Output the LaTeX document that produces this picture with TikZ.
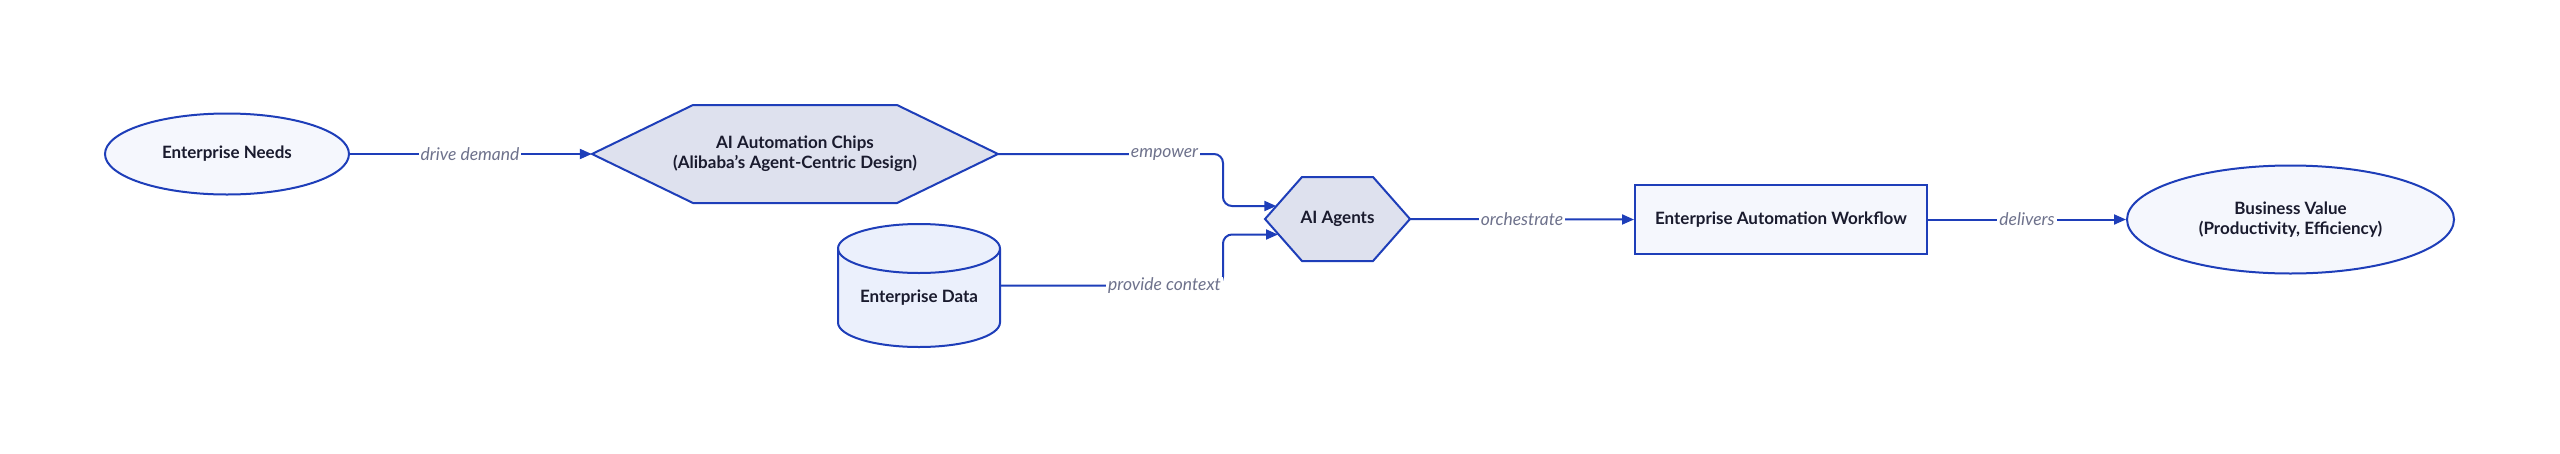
\documentclass[tikz,border=0pt]{standalone}
\usepackage{fontspec}
\setmainfont{Lato}
\usetikzlibrary{arrows.meta,shapes.geometric}
\definecolor{edgeblue}{RGB}{30,62,185}
\definecolor{lightfill}{RGB}{245,247,253}
\definecolor{hexfill}{RGB}{222,225,238}
\definecolor{cylfill}{RGB}{235,240,252}
\definecolor{txtcol}{RGB}{26,27,46}
\definecolor{labcol}{RGB}{110,114,140}
\tikzset{
  txt/.style={font=\fontsize{17}{20}\selectfont\bfseries, text=txtcol, align=center},
  ellbox/.style={txt, ellipse, draw=edgeblue, line width=2pt, fill=lightfill, inner sep=0pt},
  rectbox/.style={txt, rectangle, draw=edgeblue, line width=2pt, fill=lightfill},
  hexlook/.style={draw=edgeblue, line width=2pt, fill=hexfill, line join=miter},
  cyllook/.style={draw=edgeblue, line width=2pt, fill=cylfill},
  edge/.style={draw=edgeblue, line width=2pt, -{Triangle[length=12pt,width=10pt]}, rounded corners=9pt},
  lab/.style={font=\fontsize{17.5}{20}\selectfont\itshape, text=labcol, fill=white, inner xsep=2pt, inner ysep=1pt}
}
\begin{document}
\begin{tikzpicture}[x=1pt,y=-1pt]
\useasboundingbox (0,0) rectangle (2560,453);
\fill[white] (0,0) rectangle (2560,453);

% Enterprise Needs
\node[ellbox, minimum width=244pt, minimum height=81pt] (needs) at (227,154) {Enterprise Needs};

% AI Automation Chips hexagon
\coordinate (chipsc) at (795,154);
\draw[hexlook] ([shift={(-203,0)}]chipsc) -- ([shift={(-102,-49)}]chipsc) -- ([shift={(102,-49)}]chipsc)
  -- ([shift={(203,0)}]chipsc) -- ([shift={(102,49)}]chipsc) -- ([shift={(-102,49)}]chipsc) -- cycle;
\node[txt, minimum width=406pt, minimum height=98pt, inner sep=0pt] (chips) at (chipsc) {AI Automation Chips\\(Alibaba’s Agent-Centric Design)};

% Enterprise Data cylinder
\coordinate (dc) at (919,285.5);
\draw[cyllook] ([shift={(-81,-37)}]dc) -- ([shift={(-81,37)}]dc)
  arc[start angle=180, end angle=360, x radius=81pt, y radius=24.5pt]
  -- ([shift={(81,-37)}]dc)
  arc[start angle=0, end angle=180, x radius=81pt, y radius=24.5pt] -- cycle;
\draw[cyllook, fill=none] ([shift={(-81,-37)}]dc) arc[start angle=180, end angle=360, x radius=81pt, y radius=24.5pt];
\node[minimum width=162pt, minimum height=123pt, inner sep=0pt] (data) at (dc) {};
\node[txt] (datatext) at (919,298) {Enterprise Data};

% AI Agents hexagon
\coordinate (agc) at (1337.5,219);
\draw[hexlook] ([shift={(-72.5,0)}]agc) -- ([shift={(-35.5,-42)}]agc) -- ([shift={(35.5,-42)}]agc)
  -- ([shift={(72.5,0)}]agc) -- ([shift={(35.5,42)}]agc) -- ([shift={(-35.5,42)}]agc) -- cycle;
\node[txt, minimum width=145pt, minimum height=84pt, inner sep=0pt] (agents) at (agc) {AI Agents};

% Workflow
\node[rectbox, minimum width=292pt, minimum height=69pt] (flow) at (1781,219.5) {Enterprise Automation Workflow};

% Business Value
\node[ellbox, minimum width=327pt, minimum height=108pt] (value) at (2290.5,219.5) {Business Value\\(Productivity, Efficiency)};

% connector end points / bends
\coordinate (agup) at ([shift={(11.5,-13)}]agents.west);
\coordinate (aglow) at ([shift={(13.2,15.5)}]agents.west);
\coordinate (bend) at (1223,0);

% connectors
\draw[edge] (needs.east) -- (chips.west);
\draw[edge] (chips.east) -| (bend |- agup) -- (agup);
\draw[edge] (data.east) -| (bend |- aglow) -- (aglow);
\draw[edge] (agents.east) -- (flow.west);
\draw[edge] (flow.east) -- (value.west);

% labels
\node[lab] (l1) at (470,154) {drive demand};
\node[lab] (l2) at (1164.5,154) {empower};
\node[lab] (l3) at (1164.5,285.5) {provide context};
\node[lab] (l4) at (1522,219) {orchestrate};
\node[lab] (l5) at (2027,219.5) {delivers};
\end{tikzpicture}
\end{document}
